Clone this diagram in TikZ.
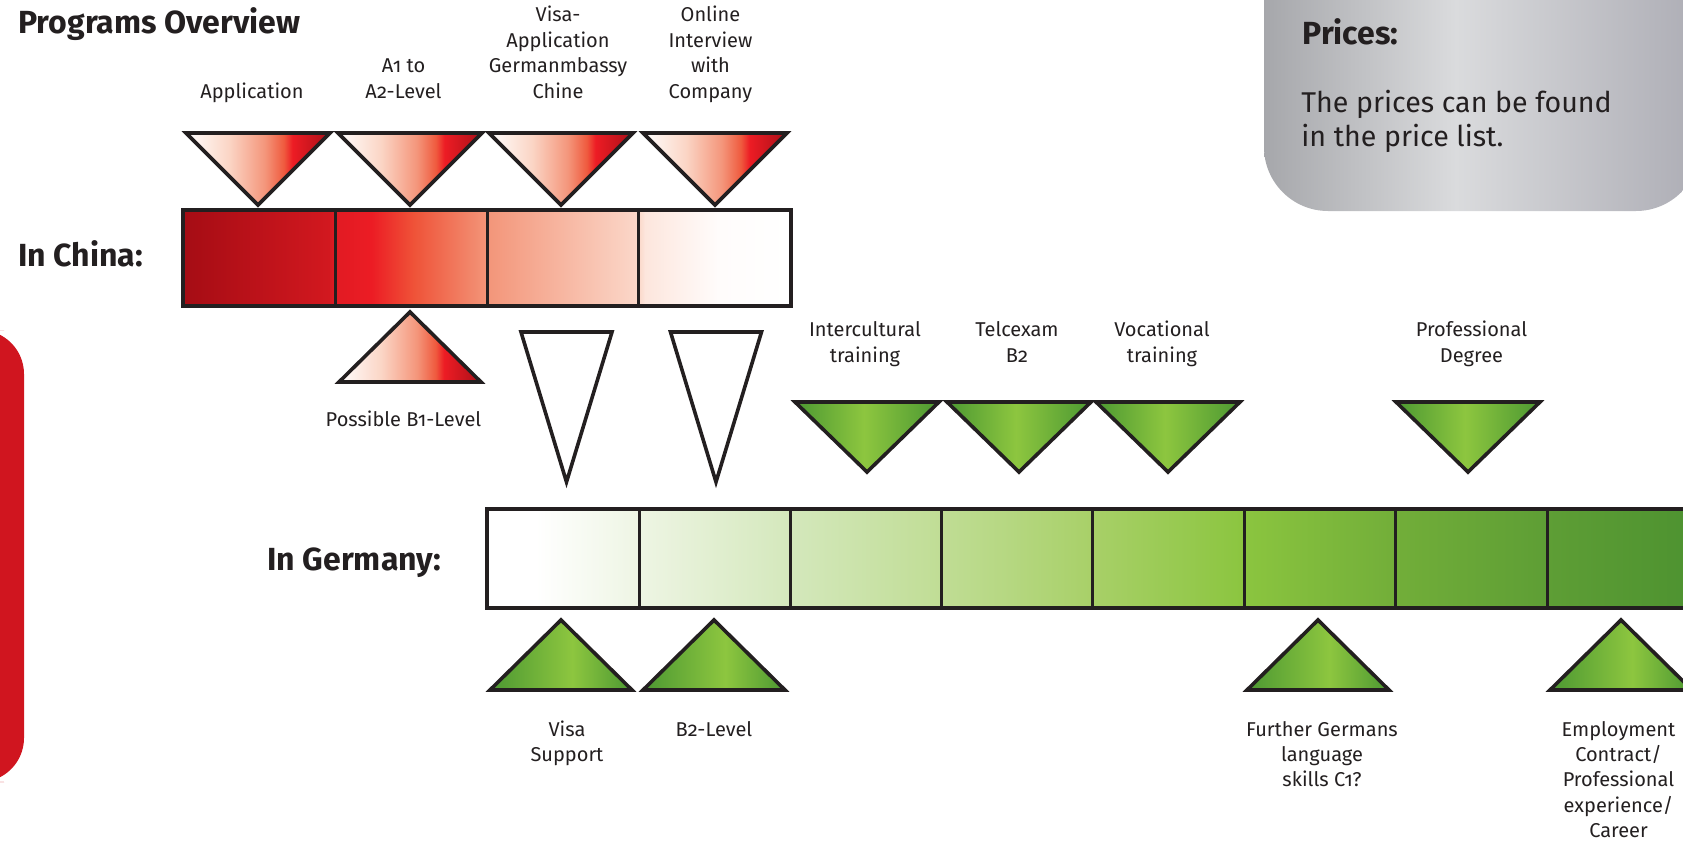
\documentclass[tikz,border=0pt]{standalone}
\usepackage{fontspec}
\setmainfont{Fira Sans}[Numbers=OldStyle]

\definecolor{ink}{HTML}{231F20}
\definecolor{sidered}{HTML}{D0151F}
\definecolor{cnA}{HTML}{A50C14}
\definecolor{cnB}{HTML}{D2181F}
\definecolor{cnC}{HTML}{E11B23}
\definecolor{cnD}{HTML}{EC1C24}
\definecolor{cnE}{HTML}{EF5338}
\definecolor{cnF}{HTML}{F39579}
\definecolor{cnG}{HTML}{FBD8CA}
\definecolor{cnH}{HTML}{FDE6DD}
\definecolor{cnI}{HTML}{FFFCFB}
\definecolor{rtB}{HTML}{FBD5C5}
\definecolor{rtC}{HTML}{F4957A}
\definecolor{rtD}{HTML}{EF5A3E}
\definecolor{rtE}{HTML}{ED1C24}
\definecolor{rtF}{HTML}{AA0F18}
\definecolor{gnDark}{HTML}{4C9832}
\definecolor{gnLight}{HTML}{8DC63F}
\definecolor{deB}{HTML}{EEF5E4}
\definecolor{deC}{HTML}{D4E8BC}
\definecolor{deD}{HTML}{C0DD95}
\definecolor{deE}{HTML}{A8D068}
\definecolor{deF}{HTML}{8BC53F}
\definecolor{deG}{HTML}{72AE39}
\definecolor{deH}{HTML}{5E9E35}
\definecolor{deI}{HTML}{4D9230}
\definecolor{grA}{HTML}{A6A7AB}
\definecolor{grB}{HTML}{DADBDD}
\definecolor{grC}{HTML}{ADADB5}

% shadings: the part from 25bp to 75bp is stretched over the path
\pgfdeclarehorizontalshading{chinabar}{100bp}{color(0bp)=(cnA); color(25bp)=(cnA);
  color(37bp)=(cnB); color(37.5bp)=(cnC); color(40.5bp)=(cnD); color(44bp)=(cnE);
  color(50bp)=(cnF); color(62.5bp)=(cnG); color(63bp)=(cnH); color(69bp)=(cnI);
  color(75bp)=(white); color(100bp)=(white)}
\pgfdeclarehorizontalshading{germanybar}{100bp}{color(0bp)=(white); color(27bp)=(white);
  color(31.25bp)=(deB); color(37.5bp)=(deC); color(43.75bp)=(deD); color(50bp)=(deE);
  color(56.25bp)=(deF); color(62.5bp)=(deG); color(68.75bp)=(deH); color(75bp)=(deI);
  color(100bp)=(deI)}
\pgfdeclarehorizontalshading{redtri}{100bp}{color(0bp)=(white); color(25bp)=(white);
  color(40bp)=(rtB); color(52.5bp)=(rtC); color(59bp)=(rtD); color(62bp)=(rtE);
  color(75bp)=(rtF); color(100bp)=(rtF)}
\pgfdeclarehorizontalshading{greendown}{100bp}{color(0bp)=(gnDark); color(25bp)=(gnDark);
  color(49bp)=(gnLight); color(75bp)=(gnDark); color(100bp)=(gnDark)}
\pgfdeclarehorizontalshading{greenup}{100bp}{color(0bp)=(gnDark); color(25bp)=(gnDark);
  color(54bp)=(gnLight); color(75bp)=(gnDark); color(100bp)=(gnDark)}
\pgfdeclarehorizontalshading{pricebox}{100bp}{color(0bp)=(grA); color(25bp)=(grA);
  color(47bp)=(grB); color(75bp)=(grC); color(100bp)=(grC)}

\tikzset{
  lbl/.style={font=\fontsize{10}{12.7}\selectfont, text=ink, align=center,
    anchor=base, inner sep=0pt},
  head/.style={font=\fontsize{16}{19}\selectfont\bfseries, text=ink,
    anchor=base west, inner sep=0pt},
  tri/.style={draw=ink, line width=1.8pt, line join=miter},
  divider/.style={draw=ink, line width=1.5pt},
  frame/.style={draw=ink, line width=2pt},
}

\begin{document}
\begin{tikzpicture}[x=0.5pt,y=-0.5pt]
  \useasboundingbox (0,0) rectangle (1683,846);
  \clip (0,0) rectangle (1683,846);

  % side bar and price box
  \fill[sidered, rounded corners=22] (-40,330) rectangle (24,782);
  \shade[shading=pricebox, rounded corners=32] (1264,-60) rectangle (1700,211);
  \node[head] (prices) at (1302,44) {Prices:};
  \node[font=\fontsize{14.3}{17}\selectfont, text=ink, align=left, anchor=base west,
    inner sep=0pt] (pricetext) at (1301,146) {The prices can be found\\in the price list.};

  % headings
  \node[head] (title) at (18,33) {Programs Overview};
  \node[head] (china) at (18,266) {In China:};
  \node[head] (germany) at (267,570) {In Germany:};

  % China bar
  \shade[shading=chinabar] (183,210) rectangle (791,306);
  \foreach \x in {335,487,638}
    \draw[divider] (\x,210) -- (\x,306);
  \draw[frame] (183,210) rectangle (791,306);

  % Germany bar
  \shade[shading=germanybar] (487,509) rectangle (1698,608);
  \foreach \x in {639,790,941,1092,1244,1395,1547}
    \draw[divider] (\x,509) -- (\x,608);
  \draw[frame] (487,509) rectangle (1698,608);

  % red triangles
  \foreach \x in {258,410,561,715}
    \shade[tri, shading=redtri] (\x-72,133) -- (\x+72,133) -- (\x,205) -- cycle;
  \shade[tri, shading=redtri] (339,382) -- (481,382) -- (410,312) -- cycle;

  % white triangles
  \foreach \x in {566.5,716}
    \draw[tri, fill=white] (\x-45.5,332) -- (\x+45.5,332) -- (\x,482) -- cycle;

  % green triangles
  \foreach \x in {867,1019,1168,1468}
    \shade[tri, shading=greendown] (\x-72,402) -- (\x+72,402) -- (\x,472) -- cycle;
  \foreach \x in {561,714,1318,1621}
    \shade[tri, shading=greenup] (\x-71,690) -- (\x+71,690) -- (\x,620) -- cycle;

  % labels China (base = last line)
  \node[lbl] (application) at (252,98) {Application};
  \node[lbl] (level) at (403.5,98) {A1 to\\A2-Level};
  \node[lbl] (visaapp) at (558,98) {Visa-\\Application\\Germanmbassy\\Chine};
  \node[lbl] (interview) at (710.5,98) {Online\\Interview\\with\\Company};
  \node[lbl] (possible) at (403.5,426) {Possible B1-Level};

  % labels Germany
  \node[lbl] (intercultural) at (865,362) {Intercultural\\training};
  \node[lbl] (telc) at (1017,362) {Telcexam\\B2};
  \node[lbl] (vocational) at (1162,362) {Vocational\\training};
  \node[lbl] (degree) at (1471.5,362) {Professional\\Degree};
  \node[lbl] (visasupport) at (567,761.4) {Visa\\Support};
  \node[lbl] (btwo) at (714,736) {B2-Level};
  \node[lbl] (further) at (1322,786.8) {Further Germans\\language\\skills C1?};
  \node[lbl] (employment) at (1618.5,837.6) {Employment\\Contract/\\Professional\\experience/\\Career};
\end{tikzpicture}
\end{document}
